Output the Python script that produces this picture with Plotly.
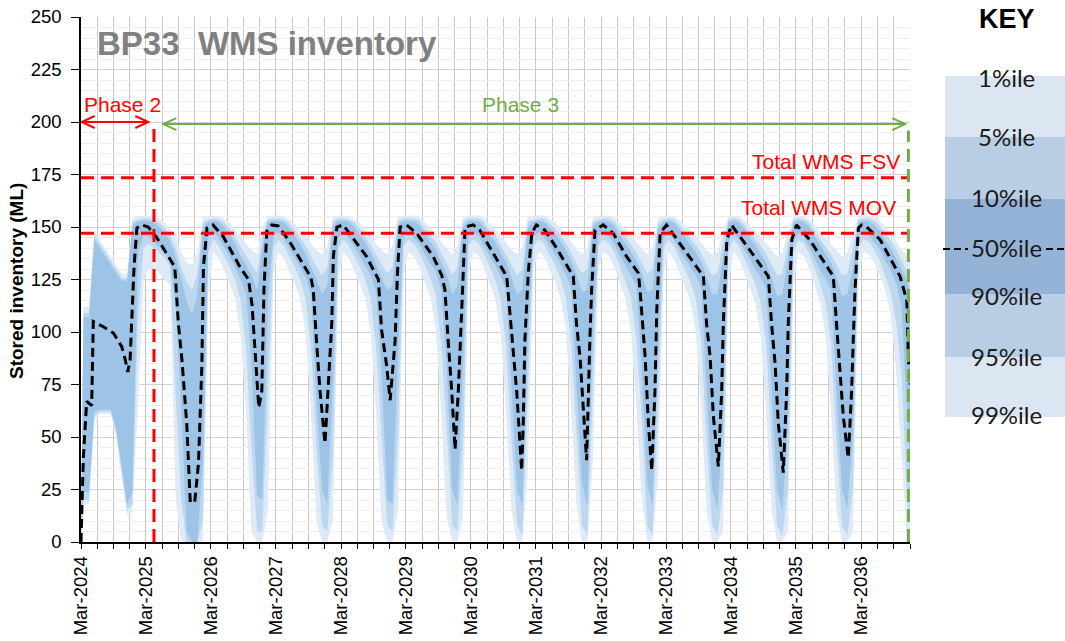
import pandas as pd
import plotly.graph_objects as go

# ---------------------------------------------------------------------------
# Data
# ---------------------------------------------------------------------------
# Percentile bands are sampled mid-month (first point is the start of record,
# last point is the end of the horizon).
band_dates = (["2024-03-01"]
              + [d.strftime("%Y-%m-15") for d in pd.date_range("2024-03-01", "2036-11-01", freq="MS")]
              + ["2036-12-01"])

# One row per year: 2024 = [Mar-01, Mar..Dec], 2025-2035 = [Jan..Dec], 2036 = [Jan..Nov, Dec-01]
p1_rows = [
    [0, 18, 18, 58, 61, 61, 61, 50, 30, 13, 14],
    [63, 125, 130, 130, 128, 125, 122, 20, 0, 0, 0, 0],
    [0, 118, 138, 135, 129, 123, 116, 98, 62, 5, 0, 0],
    [15, 128, 138, 135, 129, 123, 116, 100, 60, 10, 0, 0],
    [10, 125, 138, 135, 129, 123, 116, 100, 60, 10, 0, 0],
    [15, 128, 138, 136, 131, 124, 117, 102, 62, 12, 0, 0],
    [12, 128, 138, 136, 130, 123, 116, 100, 62, 15, 0, 0],
    [35, 130, 138, 136, 130, 124, 117, 102, 64, 18, 0, 0],
    [38, 130, 138, 136, 131, 123, 116, 101, 65, 22, 0, 0],
    [30, 128, 138, 135, 128, 122, 115, 100, 64, 15, 0, 0],
    [5, 122, 138, 135, 128, 121, 114, 98, 62, 15, 0, 0],
    [5, 122, 138, 136, 130, 122, 114, 98, 62, 15, 0, 0],
    [5, 125, 138, 137, 133, 127, 120, 108, 80, 40, 0, 0],
]
p5_rows = [
    [0, 20, 20, 60, 62, 62, 62, 52, 33, 15, 18],
    [105, 140, 142, 140, 138, 135, 131, 70, 20, 0, 0, 0],
    [10, 138, 144, 141, 136, 131, 125, 115, 92, 45, 5, 5],
    [70, 140, 144, 141, 136, 131, 125, 116, 92, 45, 8, 5],
    [40, 140, 144, 141, 136, 131, 125, 116, 92, 50, 8, 5],
    [50, 141, 144, 142, 138, 132, 126, 118, 95, 55, 8, 5],
    [45, 141, 144, 142, 137, 131, 125, 116, 93, 48, 8, 3],
    [70, 141, 144, 142, 137, 132, 126, 117, 95, 50, 8, 3],
    [72, 141, 144, 142, 138, 131, 125, 117, 97, 60, 8, 3],
    [62, 140, 144, 141, 135, 130, 124, 116, 95, 48, 8, 3],
    [25, 138, 144, 141, 135, 129, 123, 114, 94, 48, 8, 3],
    [25, 138, 144, 142, 137, 130, 123, 114, 94, 48, 8, 3],
    [25, 140, 144, 143, 139, 134, 127, 119, 104, 80, 20, 8],
]
p10_rows = [
    [0, 24, 24, 62, 63, 63, 63, 54, 36, 18, 24],
    [138, 146, 146, 143, 140.5, 138, 134, 112, 65, 5, 0, 0],
    [40, 145, 147.5, 144.5, 140.5, 136, 131, 125, 118, 85, 22, 20],
    [115, 146, 147.5, 144.5, 140, 136, 131, 126, 118, 68, 25, 18],
    [75, 145, 147.5, 144.5, 140.5, 136, 131.5, 127, 119, 80, 20, 18],
    [88, 146, 147.5, 145, 142, 137, 132.5, 129, 120, 85, 25, 18],
    [80, 146, 147.5, 145.5, 141, 136, 132, 126.5, 120, 72, 25, 17],
    [96, 145, 147.5, 145.5, 141, 137, 133, 127.5, 121, 72, 28, 17],
    [98, 146, 147.5, 145.5, 142, 136, 132, 127, 122, 82, 28, 17],
    [90, 145, 147, 144, 139, 135, 131, 127, 121, 72, 25, 16],
    [55, 143, 147, 144, 139, 134.5, 130, 126, 120, 72, 25, 15],
    [55, 143, 147, 145, 140.5, 135, 129.5, 125.5, 120, 72, 25, 16],
    [50, 145, 147.5, 146, 143, 139.5, 134, 129, 123, 112, 60, 30],
]
p90_rows = [
    [0, 107, 107, 144, 140, 136, 132, 128, 124.5, 124, 151],
    [152.5, 153, 153, 152, 150, 147, 143, 136, 125, 115, 108, 118],
    [150, 152.5, 153, 152.5, 150, 146.5, 142, 136, 132, 127, 120, 140],
    [152.5, 153, 153, 152.5, 149.5, 146, 142, 137, 131, 125, 118, 122],
    [150, 153, 153, 152.5, 150, 146.5, 142.5, 138, 132, 126, 120, 122],
    [151, 153, 153, 152.5, 151, 147, 143, 139.5, 133, 128, 118, 122],
    [150, 153, 153, 152.5, 150, 146, 143, 138, 133, 126, 118, 120],
    [150, 152.5, 153, 152.5, 150, 147, 143.5, 139, 134, 127, 119, 120],
    [150.5, 152.5, 153, 152.5, 150.5, 146, 142.5, 138.5, 134, 128, 119, 120],
    [149, 152.5, 153, 152, 149, 145.5, 142, 138, 133.5, 126, 118, 118],
    [135, 152, 153, 152, 149, 145, 141.5, 137.5, 133, 126, 117, 118],
    [135, 152, 153, 152.5, 150, 145.5, 141, 137, 133, 126, 117, 118],
    [130, 152.5, 153, 152.5, 151, 148, 143.5, 140, 135, 130, 124, 118],
]
p95_rows = [
    [0, 109, 109, 146, 142, 138, 134, 130, 126, 125.5, 152.5],
    [153.5, 154, 154, 153.5, 152, 149.5, 146, 140, 131, 124, 120, 128],
    [152, 153.5, 154, 153.5, 152, 149, 145, 140.5, 136.5, 132, 128, 146],
    [153.5, 154, 154, 153.5, 151.5, 148.5, 145, 141, 136, 131, 127, 131],
    [152.5, 154, 154, 153.5, 152, 149, 145.5, 141.5, 136.5, 132, 128, 131],
    [153, 154, 154, 154, 153, 149.5, 146, 143, 137.5, 133, 127, 131],
    [152.5, 154, 154, 154, 152, 148.5, 146, 141.5, 137, 132, 127, 130],
    [152.5, 153.5, 154, 154, 152, 149.5, 146.5, 142.5, 138, 132.5, 128, 130],
    [152.5, 153.5, 154, 154, 152.5, 148.5, 145.5, 142, 138, 133, 128, 130],
    [151.5, 153.5, 154, 153.5, 151, 148, 145, 141.5, 137.5, 132, 127, 128],
    [142, 153.5, 154, 153.5, 151, 148, 144.5, 141, 137, 132, 127, 128],
    [142, 153.5, 154, 153.5, 152, 148, 144, 140.5, 137, 132, 127, 128],
    [140, 153.5, 154, 154, 153, 150.5, 147, 143.5, 139, 134, 129, 126],
]
p99_rows = [
    [0, 112, 112, 148, 144, 140, 136, 132, 128, 127.5, 154],
    [155, 155.5, 155.5, 155, 154, 152, 149, 145, 138, 133, 132, 138],
    [154.5, 155, 155.5, 155, 154, 152, 148.5, 145.5, 142, 139, 137, 150],
    [155, 155.5, 155.5, 155, 153.5, 151.5, 148.5, 146, 142, 139, 137, 141],
    [154.5, 155.5, 155.5, 155, 153.5, 152, 148.5, 146, 142, 139, 137, 141],
    [155, 155.5, 155.5, 155.5, 154.5, 152.5, 149.5, 147, 143, 140, 137, 141],
    [154.5, 155.5, 155.5, 155.5, 154, 151.5, 149, 146, 142.5, 139, 137, 140],
    [154.5, 155.5, 155.5, 155.5, 154, 152.5, 149.5, 147, 143, 139.5, 137, 140],
    [154.5, 155.5, 155.5, 155.5, 154.5, 151.5, 149, 146.5, 143, 140, 137, 140],
    [154, 155.5, 155.5, 155, 153, 151, 148.5, 146, 142.5, 139, 137, 138],
    [148, 155, 155.5, 155, 153, 151, 148, 145.5, 142, 139, 136, 138],
    [148, 155, 155.5, 155, 153.5, 151, 147.5, 145, 142, 139, 136, 138],
    [147, 155.5, 155.5, 155.5, 154.5, 153, 150, 147, 143, 139, 136, 134],
]

# Median (50th percentile) storage trajectory
median_points = [
    ("2024-03-01", 0), ("2024-03-14", 40), ("2024-04-02", 67), ("2024-04-30", 65),
    ("2024-05-09", 105), ("2024-07-04", 102.5), ("2024-08-30", 99.5), ("2024-10-16", 93),
    ("2024-11-04", 87), ("2024-11-19", 81), ("2024-12-02", 87), ("2024-12-24", 131),
    ("2025-01-09", 149.5), ("2025-02-06", 151), ("2025-03-14", 150), ("2025-04-30", 145),
    ("2025-08-10", 131), ("2025-08-30", 104), ("2025-09-18", 88), ("2025-10-16", 56.5),
    ("2025-11-05", 19), ("2025-11-30", 19), ("2025-12-21", 37.5),
    ("2026-01-09", 83.5), ("2026-01-18", 131), ("2026-02-07", 149.5), ("2026-03-12", 151),
    ("2026-05-09", 145.5), ("2026-08-11", 131), ("2026-09-28", 125), ("2026-10-18", 113),
    ("2026-11-10", 84), ("2026-11-25", 64), ("2026-12-12", 72), ("2026-12-24", 120),
    ("2027-01-09", 148), ("2027-02-07", 151), ("2027-03-14", 150.5), ("2027-05-18", 143),
    ("2027-09-14", 126), ("2027-09-27", 120), ("2027-10-15", 96), ("2027-11-04", 72),
    ("2027-12-02", 47), ("2027-12-20", 72),
    ("2028-01-09", 104), ("2028-01-18", 136), ("2028-02-07", 150), ("2028-03-13", 151),
    ("2028-05-09", 144.5), ("2028-07-22", 136), ("2028-09-27", 125), ("2028-10-15", 101),
    ("2028-11-13", 83.5), ("2028-12-02", 67.5), ("2028-12-30", 96),
    ("2029-01-12", 128), ("2029-01-27", 150), ("2029-03-04", 151), ("2029-04-30", 147),
    ("2029-08-01", 136), ("2029-09-18", 127), ("2029-10-06", 120), ("2029-10-24", 96),
    ("2029-11-13", 72), ("2029-12-02", 44), ("2029-12-20", 72),
    ("2030-01-09", 112), ("2030-01-27", 150), ("2030-03-13", 151), ("2030-04-20", 148.5),
    ("2030-07-04", 137.5), ("2030-09-18", 126.5), ("2030-10-06", 109), ("2030-10-24", 93),
    ("2030-11-13", 72), ("2030-12-11", 34), ("2030-12-20", 56.5), ("2030-12-29", 96),
    ("2031-01-17", 128), ("2031-02-06", 147), ("2031-03-04", 151), ("2031-04-20", 148.5),
    ("2031-06-25", 140), ("2031-09-27", 126.5), ("2031-10-15", 104), ("2031-11-04", 88),
    ("2031-11-22", 66), ("2031-12-11", 39), ("2031-12-29", 96),
    ("2032-01-08", 120), ("2032-01-27", 148.5), ("2032-03-13", 151), ("2032-05-08", 147),
    ("2032-07-22", 136), ("2032-09-27", 128), ("2032-10-06", 120), ("2032-11-04", 88),
    ("2032-11-22", 56.5), ("2032-12-11", 34), ("2032-12-29", 72),
    ("2033-01-08", 110), ("2033-01-27", 147), ("2033-03-04", 151), ("2033-06-06", 140),
    ("2033-09-27", 126.5), ("2033-10-15", 104), ("2033-11-04", 88), ("2033-11-22", 60),
    ("2033-12-20", 36),
    ("2034-01-08", 72), ("2034-01-17", 104), ("2034-02-06", 144), ("2034-03-04", 151),
    ("2034-06-15", 139), ("2034-09-27", 126.5), ("2034-10-15", 104), ("2034-11-04", 85),
    ("2034-11-22", 56.5), ("2034-12-20", 33),
    ("2035-01-08", 72), ("2035-01-17", 104), ("2035-02-06", 144), ("2035-03-04", 151),
    ("2035-05-17", 144), ("2035-09-27", 126.5), ("2035-10-15", 104), ("2035-11-04", 80),
    ("2035-11-22", 60), ("2035-12-20", 40),
    ("2036-01-08", 72), ("2036-01-17", 96), ("2036-01-27", 120), ("2036-02-15", 149.5),
    ("2036-03-04", 151), ("2036-04-01", 150), ("2036-06-16", 144), ("2036-10-06", 126.5),
    ("2036-11-13", 115), ("2036-11-22", 88), ("2036-12-01", 75),
]

# Reference storage levels (ML)
fsv_level = 173.5
mov_level = 147

# Project phases
phase2_span = ("2024-03-05", "2025-03-14")
phase3_span = ("2025-06-07", "2036-11-04")
phase2_end = "2025-04-15"
phase3_end = "2036-11-22"

key_labels = ["1%ile", "5%ile", "10%ile", "50%ile", "90%ile", "95%ile", "99%ile"]


def flat(rows):
    return [v for row in rows for v in row]


p1, p5, p10 = flat(p1_rows), flat(p5_rows), flat(p10_rows)
p90, p95, p99 = flat(p90_rows), flat(p95_rows), flat(p99_rows)
med_x = [d for d, _ in median_points]
med_y = [v for _, v in median_points]

LIGHT, MID, DARK = "#DEEBF7", "#BDD7EE", "#9DC3E6"
RED, GREEN = "#FF0000", "#70AD47"
FONT = "Liberation Sans, Arial, sans-serif"

fig = go.Figure()


def band(lo, hi, colour):
    fig.add_trace(go.Scatter(
        x=band_dates + band_dates[::-1], y=lo + hi[::-1],
        fill="toself", fillcolor=colour, line=dict(width=0),
        mode="lines", hoverinfo="skip", showlegend=False))


band(p1, p99, LIGHT)
band(p5, p95, MID)
band(p10, p90, DARK)

fig.add_trace(go.Scatter(
    x=med_x, y=med_y, mode="lines",
    line=dict(color="black", width=3, dash="9px,5px"),
    showlegend=False, name="50%ile"))

shapes = []
# FSV / MOV reference lines
for lvl in (fsv_level, mov_level):
    shapes.append(dict(type="line", xref="paper", yref="y", x0=0, x1=1, y0=lvl, y1=lvl,
                       line=dict(color=RED, width=3, dash="13px,7px")))
# phase boundaries
shapes.append(dict(type="line", xref="x", yref="y", x0=phase2_end, x1=phase2_end, y0=0, y1=197.5,
                   line=dict(color=RED, width=3, dash="13px,7px")))
shapes.append(dict(type="line", xref="x", yref="y", x0=phase3_end, x1=phase3_end, y0=0, y1=196,
                   line=dict(color=GREEN, width=3, dash="13px,7px")))


def span_arrow(x0, x1, y, colour):
    shapes.append(dict(type="line", xref="x", yref="y", x0=x0, x1=x1, y0=y, y1=y,
                       line=dict(color=colour, width=2)))
    for xa, d in ((x0, -13), (x1, 13)):
        shapes.append(dict(type="path", xref="x", yref="y", xsizemode="pixel", ysizemode="pixel",
                           xanchor=xa, yanchor=y, path=f"M {-d},6 L 0,0 L {-d},-6",
                           line=dict(color=colour, width=2)))


span_arrow(phase2_span[0], phase2_span[1], 200, RED)
span_arrow(phase3_span[0], phase3_span[1], 199, GREEN)


# key swatches (right margin), placed in pixel terms of the 1065x641 canvas
def px_x(px):
    return (px - 81) / 829


def px_y(py):
    return (542 - py) / 525


key_bands = [(76, 137, "#DCE6F2"), (137, 199, "#B9CDE5"), (199, 294, "#95B3D7"),
             (294, 357, "#B9CDE5"), (357, 417, "#DCE6F2")]
for top, bot, col in key_bands:
    shapes.append(dict(type="rect", xref="paper", yref="paper", x0=px_x(945), x1=px_x(1065),
                       y0=px_y(bot), y1=px_y(top), fillcolor=col, line=dict(width=0), layer="above"))
for a, b in ((943, 968), (1046, 1065)):
    shapes.append(dict(type="line", xref="paper", yref="paper", x0=px_x(a), x1=px_x(b),
                       y0=px_y(249), y1=px_y(249), line=dict(color="black", width=2, dash="7px,4px")))

annotations = [
    dict(text="<b>BP33 \u00a0WMS inventory</b>", xref="paper", yref="paper", x=px_x(95), y=px_y(44),
         xanchor="left", yanchor="middle", showarrow=False, font=dict(size=33, color="#808080", family=FONT)),
    dict(text="Phase 2", xref="x", yref="y", x="2024-10-20", y=208.5, showarrow=False,
         xanchor="center", yanchor="middle", font=dict(size=21, color=RED, family=FONT)),
    dict(text="Phase 3", xref="x", yref="y", x="2030-12-02", y=208.5, showarrow=False,
         xanchor="center", yanchor="middle", font=dict(size=21, color=GREEN, family=FONT)),
    dict(text="Total WMS FSV", xref="x", yref="y", x="2036-10-17", y=181, xanchor="right",
         yanchor="middle", showarrow=False, font=dict(size=21, color=RED, family=FONT)),
    dict(text="Total WMS MOV", xref="x", yref="y", x="2036-09-25", y=159.5, xanchor="right",
         yanchor="middle", showarrow=False, font=dict(size=21, color=RED, family=FONT)),
    dict(text="<b>Stored inventory (ML)</b>", xref="paper", yref="paper", x=px_x(16), y=px_y(281),
         xanchor="center", yanchor="middle", textangle=-90, showarrow=False,
         font=dict(size=19, color="black", family=FONT)),
    dict(text="<b>KEY</b>", xref="paper", yref="paper", x=px_x(1007), y=px_y(19),
         xanchor="center", yanchor="middle", showarrow=False,
         font=dict(size=27, color="black", family=FONT)),
]
for label, py in zip(key_labels, (77, 136, 198, 248, 295, 357, 414)):
    annotations.append(dict(text=label, xref="paper", yref="paper", x=px_x(1007), y=px_y(py),
                            xanchor="center", yanchor="middle", showarrow=False,
                            font=dict(size=24, color="#1a1a1a", family="Lato, sans-serif")))

fig.update_layout(
    width=1065, height=641,
    margin=dict(l=81, r=155, t=17, b=99, autoexpand=False),
    plot_bgcolor="white", paper_bgcolor="white",
    font=dict(family=FONT, color="black"),
    shapes=shapes, annotations=annotations, showlegend=False,
    xaxis=dict(
        type="date", range=["2024-03-01", "2036-12-01"], automargin=False,
        tick0="2024-03-01", dtick="M12", tickformat="%b-%Y", tickangle=-90,
        ticks="outside", ticklen=5, tickcolor="black", tickfont=dict(size=18.5),
        showgrid=True, gridcolor="#C8C8C8", gridwidth=1,
        showline=True, linecolor="black", linewidth=1.5, zeroline=False,
        minor=dict(tick0="2024-03-01", dtick="M3", showgrid=True, gridcolor="#C8C8C8",
                   ticks="outside", ticklen=5, tickcolor="black"),
    ),
    yaxis=dict(
        range=[0, 250], dtick=25, tick0=0, automargin=False,
        ticks="outside", ticklen=8, tickcolor="black", tickfont=dict(size=18.5),
        ticklabelstandoff=6,
        showgrid=True, gridcolor="#D0D0D0", gridwidth=1,
        showline=True, linecolor="black", linewidth=1.5, zeroline=False,
        minor=dict(dtick=5, showgrid=True, gridcolor="#EDEDED"),
    ),
)

fig.write_html("out.html")
